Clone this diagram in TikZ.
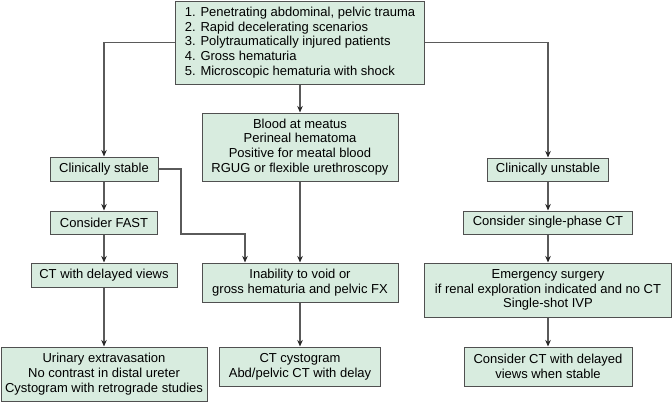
\documentclass[tikz,border=0pt]{standalone}
\usepackage{fontspec}
\setmainfont{Liberation Sans}
\usetikzlibrary{arrows.meta}
\definecolor{boxfill}{HTML}{D8ECDF}
\definecolor{boxline}{HTML}{505050}
\definecolor{linkline}{HTML}{5A5A5A}
\tikzset{
  stepbox/.style={draw=boxline, fill=boxfill, line width=1pt, inner sep=0pt,
    align=center, font=\fontsize{13}{14.8}\selectfont},
  link/.style={draw=linkline, line width=1.1pt,
    -{Stealth[length=6.5pt,width=5.5pt,color=black!85]}}
}
\begin{document}
\begin{tikzpicture}[x=1pt,y=-1pt]
      \useasboundingbox (0,0) rectangle (672,402);
      % top row
      \node[stepbox, align=left, minimum width=249pt, minimum height=83pt] (causes) at (300,42.5)
        {1. Penetrating abdominal, pelvic trauma\\2. Rapid decelerating scenarios\\3. Polytraumatically injured patients\\4. Gross hematuria\\5. Microscopic hematuria with shock};
      \node[stepbox, minimum width=196pt, minimum height=68pt] (meatus) at (300,147)
        {Blood at meatus\\Perineal hematoma\\Positive for meatal blood\\RGUG or flexible urethroscopy};
      \node[stepbox, minimum width=108pt, minimum height=24pt] (stable) at (104,169) {Clinically stable};
      \node[stepbox, minimum width=121pt, minimum height=23pt] (unstable) at (548,169.5) {Clinically unstable};
      % second row
      \node[stepbox, minimum width=107pt, minimum height=23pt] (fast) at (104,222.5) {Consider FAST};
      \node[stepbox, minimum width=169pt, minimum height=23pt] (singlect) at (548,222.5) {Consider single-phase CT};
      % third row
      \node[stepbox, minimum width=146pt, minimum height=24pt] (delayed) at (104,275) {CT with delayed views};
      \node[stepbox, minimum width=196pt, minimum height=39pt] (inability) at (300,282.5)
        {Inability to void or\\gross hematuria and pelvic FX};
      \node[stepbox, minimum width=247pt, minimum height=54pt] (surgery) at (548,290)
        {Emergency surgery\\if renal exploration indicated and no CT\\Single-shot IVP};
      % bottom row
      \node[stepbox, minimum width=206pt, minimum height=54pt] (extrav) at (104,374)
        {Urinary extravasation\\No contrast in distal ureter\\Cystogram with retrograde studies};
      \node[stepbox, minimum width=161pt, minimum height=39pt] (cystogram) at (300,366.5)
        {CT cystogram\\Abd/pelvic CT with delay};
      \node[stepbox, minimum width=168pt, minimum height=39pt] (whenstable) at (548,366.5)
        {Consider CT with delayed\\views when stable};
      \coordinate (bend) at (181,234);
      \begin{scope}[link]
        \draw (causes.west) -| (stable.north);
        \draw (causes.east) -| (unstable.north);
        \draw (causes) to (meatus);
        \draw (meatus) to (inability);
        \draw (inability) to (cystogram);
        \draw (stable) to (fast);
        \draw (fast) to (delayed);
        \draw (delayed) to (extrav);
        \draw (stable.east) -| (bend) -| ([xshift=-55pt]inability.north);
        \draw (unstable) to (singlect);
        \draw (singlect) to (surgery);
        \draw (surgery) to (whenstable);
      \end{scope}
    \end{tikzpicture}
\end{document}
